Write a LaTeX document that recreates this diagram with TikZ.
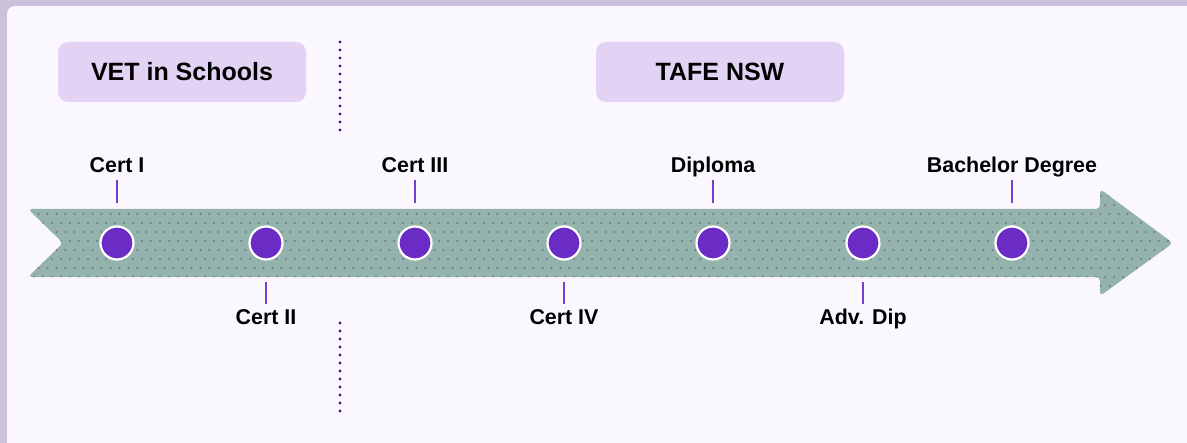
\documentclass[tikz,border=0pt]{standalone}
\usepackage{fontspec}
\setmainfont{Liberation Sans}
\usetikzlibrary{positioning}

\definecolor{frameclr}{HTML}{CBC1DB}
\definecolor{panelclr}{HTML}{FAF7FE}
\definecolor{boxclr}{HTML}{E2D3F4}
\definecolor{shaftclr}{HTML}{95B3AD}
\definecolor{dotclr}{HTML}{7A6E9C}
\definecolor{stopclr}{HTML}{6A2CC4}
\definecolor{tickclr}{HTML}{7B3DCF}
\definecolor{sepclr}{HTML}{4A1C78}

\begin{document}
\begin{tikzpicture}[
    x=0.5pt, y=-0.5pt,
    header/.style={fill=boxclr, rounded corners=5pt, minimum width=124pt, minimum height=30pt,
      font=\fontsize{12.5}{14}\selectfont\bfseries},
    stop/.style={circle, fill=stopclr, draw=white, line width=1.1pt, minimum size=16.5pt, inner sep=0pt},
    tlabel/.style={font=\fontsize{10.7}{12}\selectfont\bfseries, inner sep=1pt,
      text height=1.6ex, text depth=.3ex},
    tickline/.style={tickclr, line width=1pt},
    sep/.style={sepclr, line width=1.7pt, line cap=round, dash pattern=on 0pt off 4pt}
  ]
    \useasboundingbox (0,0) rectangle (1187,443);
    \fill[frameclr] (0,0) rectangle (1187,443);
    \fill[panelclr, rounded corners=4pt] (7,6) -- (1200,6) -- (1200,460) -- (7,460) -- cycle;

    % timeline arrow
    \path[fill=shaftclr, rounded corners=2pt] (28,209) -- (1100,209) -- (1100,189) -- (1173,243)
      -- (1100,296) -- (1100,277) -- (28,277) -- (63,243) -- cycle;
    \begin{scope}
      \clip (28,209) -- (1100,209) -- (1100,189) -- (1173,243)
        -- (1100,296) -- (1100,277) -- (28,277) -- (63,243) -- cycle;
      \foreach \r in {0,...,12} {
        \foreach \c in {0,...,130} {
          \fill[dotclr] ({25+\c*9+mod(\r,2)*4.5}, {187+\r*9}) circle (1.2);
        }
      }
    \end{scope}

    % headers and separator
    \node[header] (vet) at (182,72) {VET in Schools};
    \node[header] (tafe) at (720,72) {TAFE NSW};
    \coordinate (septop) at (340,42);
    \coordinate (sepmid) at (340,136);
    \coordinate (sepbot) at (340,323);
    \coordinate (sepend) at (340,418);
    \draw[sep] (septop) -- (sepmid);
    \draw[sep] (sepbot) -- (sepend);

    % stops
    \node[stop] (s1) at (117,243) {};
    \node[stop] (s2) at (266,243) {};
    \node[stop] (s3) at (415,243) {};
    \node[stop] (s4) at (564,243) {};
    \node[stop] (s5) at (713,243) {};
    \node[stop] (s6) at (863,243) {};
    \node[stop] (s7) at (1012,243) {};

    % labels above
    \node[tlabel] (certi) at (117,166) {Cert I};
    \node[tlabel] (certiii) at (415,166) {Cert III};
    \node[tlabel] (dip) at (713,166) {Diploma};
    \node[tlabel] (bach) at (1012,166) {Bachelor Degree};
    % labels below
    \node[tlabel] (certii) at (266,318) {Cert II};
    \node[tlabel] (certiv) at (564,318) {Cert IV};
    \node[tlabel] (adv) at (863,318) {Adv. Dip};

    \foreach \n in {certi, certiii, dip, bach} {
      \draw[tickline] (\n.south) ++(0,2) -- ++(0,23);
    }
    \foreach \n in {certii, certiv, adv} {
      \draw[tickline] (\n.north) ++(0,-2) -- ++(0,-22);
    }
  \end{tikzpicture}
\end{document}
